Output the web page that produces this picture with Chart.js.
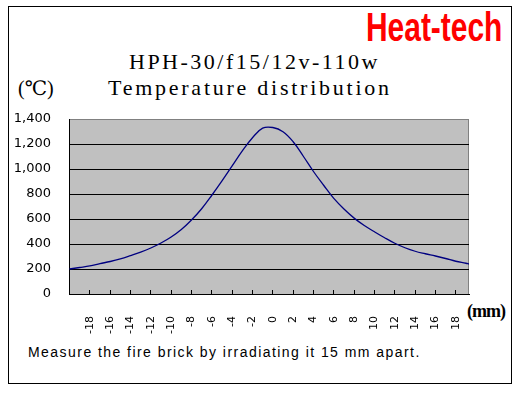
<!DOCTYPE html>
<html>
<head>
<meta charset="utf-8">
<script src="https://cdn.jsdelivr.net/npm/chart.js@4.4.1/dist/chart.umd.min.js"></script>
<style>
    html, body { margin: 0; padding: 0; background: #fff; }
    body { width: 517px; height: 393px; position: relative; overflow: hidden; }
    .frame { position: absolute; left: 8px; top: 6px; width: 504px; height: 378px; box-sizing: border-box; border: 1px solid #000; }
    .txt { position: absolute; white-space: nowrap; color: #000; }
    #logo { left: 366px; top: 7px; font: bold 41px/41px "Liberation Sans", Arial, sans-serif; color: #ff0000; transform: scaleX(0.73); transform-origin: 0 0; }
    #title { left: 129px; top: 51px; font: 22px/22px "Liberation Serif", serif; letter-spacing: 2.5px; }
    #subtitle { left: 108px; top: 77px; font: 22px/22px "Liberation Serif", serif; letter-spacing: 2.75px; }
    #unitY { left: 18px; top: 78px; font: 20px/20px "Liberation Serif", "DejaVu Serif", serif; }
    #unitX { left: 467px; top: 302px; font: bold 18px/18px "Liberation Serif", serif; letter-spacing: -1px; }
    #note { left: 28px; top: 345px; font: 14px/14px "Liberation Sans", Arial, sans-serif; letter-spacing: 1.45px; }
    #chart { position: absolute; left: 0; top: 0; }
</style>
</head>
<body>
<div class="frame"></div>
<div class="txt" id="logo">Heat-tech</div>
<div class="txt" id="title">HPH-30/f15/12v-110w</div>
<div class="txt" id="unitY">(℃)</div>
<div class="txt" id="subtitle">Temperature distribution</div>
<div class="txt" id="unitX">(mm)</div>
<div class="txt" id="note">Measure the fire brick by irradiating it 15 mm apart.</div>
<canvas id="chart" width="517" height="393"></canvas>

<script>
// distance from centre (mm) and measured temperature (°C)
const positionsMm = [-20, -19, -18, -17, -16, -15, -14, -13, -12, -11, -10, -9, -8, -7, -6, -5, -4, -3, -2, -1,
    0, 1, 2, 3, 4, 5, 6, 7, 8, 9, 10, 11, 12, 13, 14, 15, 16, 17, 18, 19, 19.3];
const temperatures = [200, 212, 225, 243, 260, 281, 307, 335, 368, 408, 456, 516, 592, 682, 790, 905, 1025, 1145, 1250, 1327,
    1332, 1298, 1218, 1102, 980, 870, 765, 680, 607, 548, 498, 450, 406, 370, 342, 322, 304, 284, 262, 246, 240];
const xTickValues = [-18, -16, -14, -12, -10, -8, -6, -4, -2, 0, 2, 4, 6, 8, 10, 12, 14, 16, 18];
const yTickValues = [0, 200, 400, 600, 800, 1000, 1200, 1400];

const points = positionsMm.map((x, i) => ({ x: x, y: temperatures[i] }));

// grey plot area with a thin grey frame (axes draw black over left/bottom)
const plotBackground = {
    id: 'plotBackground',
    beforeDraw(chart) {
        const { ctx, chartArea: a } = chart;
        ctx.save();
        ctx.fillStyle = '#c0c0c0';
        ctx.fillRect(a.left, a.top, a.right - a.left, a.bottom - a.top);
        ctx.strokeStyle = '#808080';
        ctx.lineWidth = 1;
        ctx.strokeRect(Math.round(a.left) + 0.5, Math.round(a.top) + 0.5,
            Math.round(a.right - a.left) - 1, Math.round(a.bottom - a.top));
        ctx.restore();
    }
};

new Chart(document.getElementById('chart'), {
    type: 'line',
    data: {
        datasets: [{
            data: points,
            borderColor: '#000080',
            borderWidth: 1.3,
            pointRadius: 0,
            tension: 0.4,
            fill: false
        }]
    },
    options: {
        responsive: false,
        animation: false,
        devicePixelRatio: 1,
        layout: { padding: { left: 0, right: 48, top: 119, bottom: 39 } },
        plugins: { legend: { display: false }, tooltip: { enabled: false } },
        scales: {
            x: {
                type: 'linear',
                min: -20.05,
                max: 19.3,
                afterBuildTicks: (scale) => { scale.ticks = xTickValues.map(v => ({ value: v })); },
                afterFit: (scale) => { scale.height = 60; },
                grid: { drawOnChartArea: false, drawTicks: true, tickLength: -4, color: '#000' },
                border: { color: '#000' },
                ticks: {
                    minRotation: 90,
                    maxRotation: 90,
                    padding: 26,
                    color: '#000',
                    font: { family: 'DejaVu Sans', size: 11 }
                }
            },
            y: {
                min: 0,
                max: 1400,
                afterBuildTicks: (scale) => { scale.ticks = yTickValues.map(v => ({ value: v })); },
                afterFit: (scale) => { scale.width = 69; },
                grid: {
                    drawTicks: false,
                    color: (c) => (c.tick && c.tick.value === 1400) ? 'rgba(0,0,0,0)' : '#000'
                },
                border: { color: '#000' },
                ticks: {
                    padding: 18,
                    color: '#000',
                    font: { family: 'DejaVu Sans', size: 13 },
                    callback: (v) => v.toLocaleString('en-US')
                }
            }
        }
    },
    plugins: [plotBackground]
});
</script>
</body>
</html>
